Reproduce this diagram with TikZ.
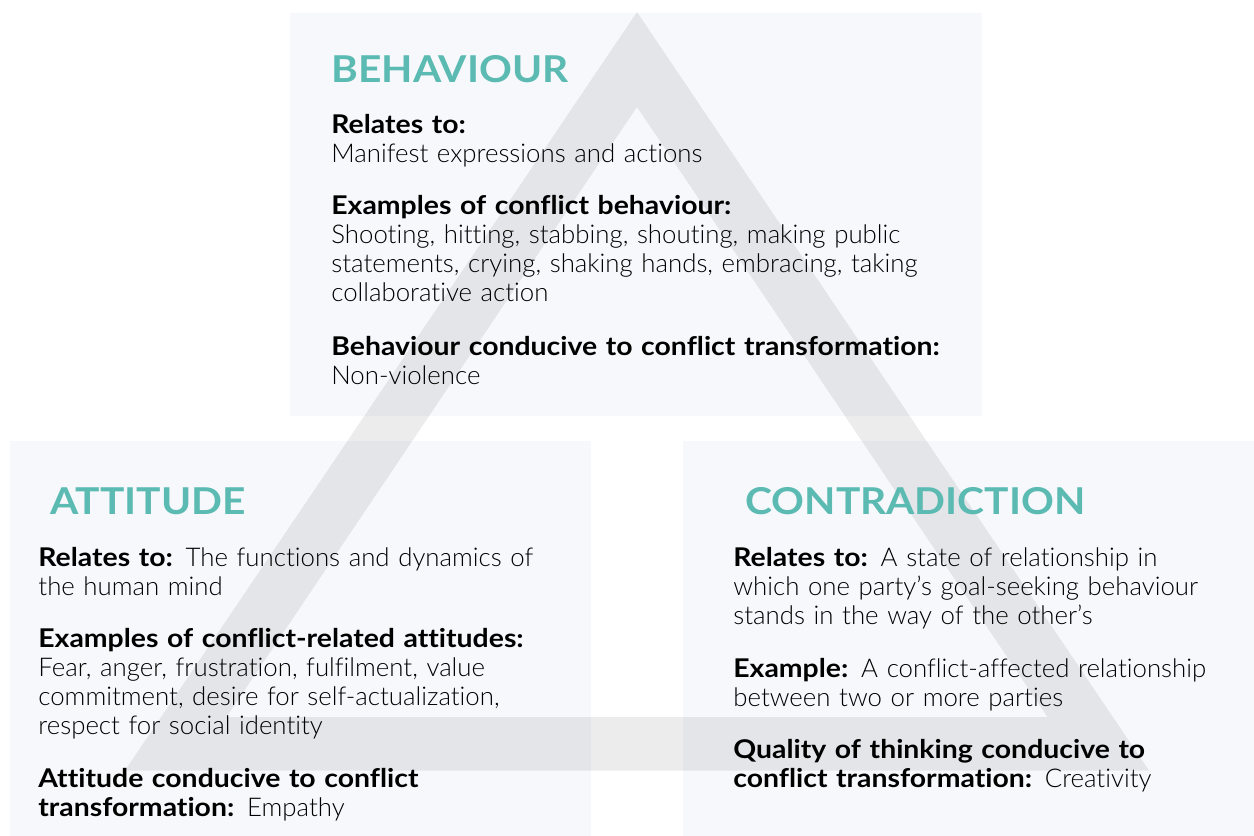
\documentclass[tikz,border=0pt]{standalone}
\usepackage{fontspec}
\setmainfont{Lato Light}[BoldFont={Lato Bold},BoldFeatures={FakeStretch=1.1},RawFeature={-liga}]
\definecolor{boxfill}{HTML}{F7F8FC}
\definecolor{titleteal}{HTML}{5BBAB2}
\tikzset{pix/.style={x={(0.5pt,0)},y={(0,-0.5pt)}}}
\tikzset{panel/.style={fill=boxfill,draw=none}}
\tikzset{heading/.style={anchor=base west,inner sep=0pt,text=titleteal,font=\fontsize{18.5}{22}\selectfont\bfseries}}
\tikzset{para/.style={anchor=base west,inner sep=0pt,text width=360pt,align=left,font=\fontsize{12.9}{14.5}\selectfont}}

\begin{document}
\begin{tikzpicture}[pix]
	\useasboundingbox (0,0) rectangle (1254,836);
	\fill[panel] (290,13) rectangle (982,416); % behaviour
	\fill[panel] (10,441) rectangle (591,836); % attitude
	\fill[panel] (683,441) rectangle (1254,836); % contradiction
	\coordinate (top) at (637,12);
	\coordinate (left) at (125,770.5);
	\coordinate (right) at (1149,770.5);
	\coordinate (itop) at (637,107);
	\coordinate (ileft) at (226.5,717);
	\coordinate (iright) at (1047.5,717);
	\fill[black, opacity=0.075, even odd rule] (top) -- (left) -- (right) -- cycle
		(itop) -- (ileft) -- (iright) -- cycle; % triangle
	% behaviour
	\node[heading] (beh) at (331,82) {BEHAVIOUR};
	\node[para] (behrel) at (331,133) {\textbf{Relates to:}\\Manifest expressions and actions};
	\node[para] (behex) at (331,214) {\textbf{Examples of conflict behaviour:}\\Shooting, hitting, stabbing, shouting, making public\\statements, crying, shaking hands, embracing, taking\\collaborative action};
	\node[para] (behcon) at (331,355) {\textbf{Behaviour conducive to conflict transformation:}\\Non-violence};
	% attitude
	\node[heading] (att) at (50,514) {ATTITUDE};
	\node[para] (attrel) at (38,566) {\textbf{Relates to:} The functions and dynamics of\\the human mind};
	\node[para] (attex) at (38,647) {\textbf{Examples of conflict-related attitudes:}\\Fear, anger, frustration, fulfilment, value\\commitment, desire for self-actualization,\\respect for social identity};
	\node[para] (attcon) at (38,787) {\textbf{Attitude conducive to conflict}\\\textbf{transformation:} Empathy};
	% contradiction
	\node[heading] (con) at (745,514) {CONTRADICTION};
	\node[para] (conrel) at (733,566) {\textbf{Relates to:} A state of relationship in\\which one party’s goal-seeking behaviour\\stands in the way of the other’s};
	\node[para] (conex) at (733,677) {\textbf{Example:} A conflict-affected relationship\\between two or more parties};
	\node[para] (concon) at (733,758) {\textbf{Quality of thinking conducive to}\\\textbf{conflict transformation:} Creativity};
\end{tikzpicture}
\end{document}
